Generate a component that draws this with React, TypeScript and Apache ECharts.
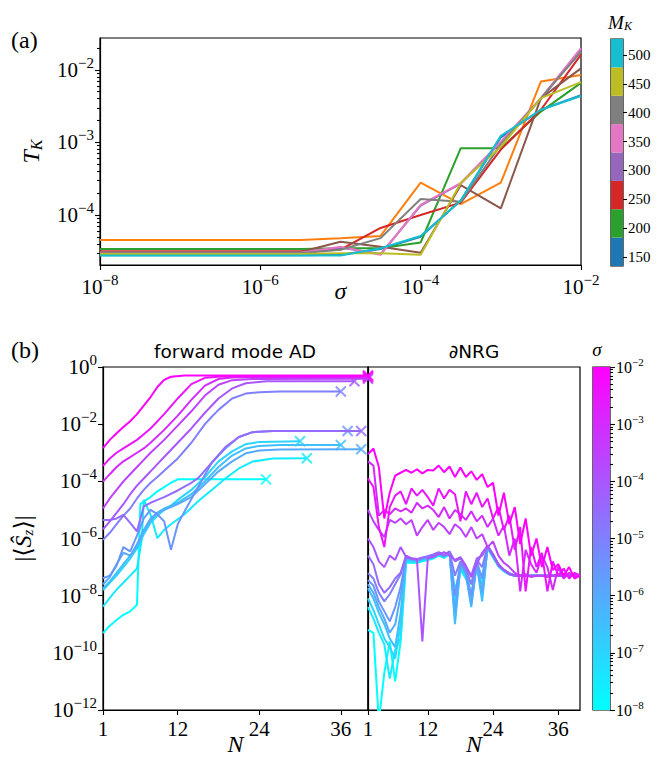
import { useEffect, useRef } from "react";
import * as echarts from "echarts";

const SERIF = "Liberation Serif, DejaVu Serif, serif";
const SANS = "DejaVu Sans, Noto Sans, sans-serif";

// ---------------- Panel (a): T_K vs sigma (log10 values) ----------------
const SIGMA_EXP = [-8, -7.5, -7, -6.5, -6, -5.5, -5, -4.5, -4, -3.5, -3, -2.5, -2];
const TK_BLUE = [-4.555, -4.555, -4.555, -4.555, -4.555, -4.555, -4.55, -4.47, -4.3, -3.8, -2.93, -2.55, -2.35];
const TK_ORANGE = [-4.345, -4.345, -4.345, -4.345, -4.345, -4.345, -4.32, -4.29, -3.555, -3.85, -3.555, -2.16, -2.07];
const TK_GREEN = [-4.47, -4.47, -4.47, -4.47, -4.47, -4.47, -4.46, -4.46, -4.38, -3.08, -3.08, -2.575, -2.18];
const TK_RED = [-4.5, -4.5, -4.5, -4.5, -4.5, -4.5, -4.48, -4.18, -4.0, -3.83, -3.1, -2.55, -1.79];
const TK_PURPLE = [-4.52, -4.52, -4.52, -4.52, -4.52, -4.52, -4.45, -4.54, -3.87, -3.57, -3.0, -2.4, -1.71];
const TK_BROWN = [-4.51, -4.51, -4.51, -4.51, -4.51, -4.51, -4.37, -4.44, -4.52, -3.59, -3.91, -2.39, -1.98];
const TK_PINK = [-4.52, -4.52, -4.52, -4.52, -4.52, -4.52, -4.44, -4.55, -3.86, -3.56, -2.99, -2.39, -1.7];
const TK_GRAY = [-4.53, -4.53, -4.53, -4.53, -4.53, -4.53, -4.48, -4.32, -3.78, -3.82, -3.03, -2.39, -1.75];
const TK_OLIVE = [-4.54, -4.54, -4.54, -4.54, -4.54, -4.54, -4.53, -4.53, -4.55, -3.56, -3.06, -2.39, -2.17];
const TK_CYAN = [-4.56, -4.56, -4.56, -4.56, -4.56, -4.56, -4.56, -4.46, -4.29, -3.8, -2.91, -2.55, -2.36];
const TK_LINES = [TK_BLUE, TK_ORANGE, TK_GREEN, TK_RED, TK_PURPLE, TK_BROWN, TK_PINK, TK_GRAY, TK_OLIVE, TK_CYAN];
const TAB10 = ["#1f77b4", "#ff7f0e", "#2ca02c", "#d62728", "#9467bd", "#8c564b", "#e377c2", "#7f7f7f", "#bcbd22", "#17becf"];

const TOP_X_TICKS = [1e-8, 1e-6, 1e-4, 1e-2];
const TOP_Y_TICKS = [1e-4, 1e-3, 1e-2];
const TOP_Y_MINOR = [3e-5, 4e-5, 5e-5, 6e-5, 7e-5, 8e-5, 9e-5, 2e-4, 3e-4, 4e-4, 5e-4, 6e-4, 7e-4, 8e-4, 9e-4, 2e-3, 3e-3, 4e-3, 5e-3, 6e-3, 7e-3, 8e-3, 9e-3, 2e-2];

const MK_TICKS = [150, 200, 250, 300, 350, 400, 450, 500];
const MK_BIN_COLORS = ["#1f77b4", "#2ca02c", "#d62728", "#9467bd", "#e377c2", "#7f7f7f", "#bcbd22", "#17becf"];

// ---------------- Panel (b): |<S_z>| vs N (log10 values) ----------------
// forward mode AD: [N, log10 value]; sigma = 1e-8 ... 1e-2 in half decades
const FWD_S0 = [[1, -9.31], [2, -9.05], [3, -8.85], [4, -8.67], [5, -8.55], [6, -8.32], [6.5, -4.8], [7, -4.7], [8, -4.55], [9, -4.35], [10, -4.2], [11, -4.05], [12, -3.93], [25, -3.93]];
const FWD_S1 = [[1, -8.38], [2, -8.08], [3, -7.79], [4, -7.55], [5, -7.3], [6, -7.05], [6.7, -6.05], [7, -4.65], [8, -5.17], [9, -5.99], [10, -5.7], [11, -5.5], [13, -5.15], [15, -4.7], [17, -4.3], [19, -3.9], [21, -3.55], [23, -3.31], [26, -3.2], [31, -3.19]];
const FWD_S2 = [[1, -7.8], [2, -7.55], [3, -7.3], [4, -7.0], [5, -6.7], [6, -6.35], [7, -5.85], [8, -5.45], [9, -5.2], [10, -5.0], [11, -4.85], [12, -4.65], [14, -4.3], [16, -3.85], [18, -3.3], [20, -2.95], [22, -2.7], [24, -2.62], [30, -2.6]];
const FWD_S3 = [[1, -7.75], [2, -7.5], [3, -7.2], [4, -6.9], [5, -6.6], [6, -6.3], [7, -5.8], [8, -5.4], [9, -5.1], [10, -4.95], [11, -4.85], [12, -4.75], [14, -4.45], [16, -4.0], [18, -3.5], [20, -3.1], [22, -2.85], [24, -2.76], [27, -2.73], [36, -2.73]];
const FWD_S4 = [[1, -7.6], [2, -7.35], [3, -6.9], [4, -6.5], [5, -6.6], [6, -6.2], [7, -5.7], [8, -5.3], [9, -5.1], [10, -5.0], [11, -4.9], [12, -4.8], [14, -4.55], [16, -4.1], [18, -3.65], [20, -3.3], [22, -3.02], [24, -2.92], [27, -2.89], [39, -2.88]];
const FWD_S5 = [[1, -7.39], [2, -7.3], [3, -6.95], [4, -6.3], [5, -6.45], [6, -5.9], [7, -5.3], [8, -5.0], [9, -5.15], [10, -5.4], [11, -6.39], [12, -5.5], [13, -5.05], [15, -4.2], [17, -3.35], [19, -2.85], [21, -2.45], [23, -2.28], [26, -2.24], [37, -2.24]];
const FWD_S6 = [[1, -6.05], [2, -5.8], [3, -5.5], [4, -5.2], [5, -4.95], [6, -4.6], [7, -4.3], [8, -4.05], [9, -3.85], [10, -3.63], [12, -3.2], [14, -2.65], [16, -2.0], [17, -1.74], [18, -1.5], [20, -1.1], [22, -0.93], [24, -0.88], [27, -0.86], [36, -0.86]];
const FWD_S7 = [[1, -5.35], [2, -5.35], [3, -5.3], [4, -5.17], [5, -5.45], [6, -5.75], [7, -4.88], [8, -4.75], [9, -4.65], [10, -4.55], [12, -4.32], [14, -4.05], [15, -3.89], [17, -3.35], [19, -2.8], [21, -2.45], [23, -2.28], [26, -2.24], [39, -2.24]];
const FWD_S8 = [[1, -5.68], [2, -5.4], [3, -5.1], [4, -4.8], [5, -4.45], [6, -4.15], [7, -3.9], [8, -3.65], [9, -3.4], [10, -3.15], [12, -2.65], [14, -2.15], [16, -1.6], [18, -1.1], [20, -0.75], [22, -0.57], [25, -0.5], [38, -0.5]];
const FWD_S9 = [[1, -4.95], [2, -4.6], [3, -4.3], [4, -4.0], [5, -3.75], [6, -3.5], [7, -3.25], [8, -3.0], [10, -2.55], [12, -2.05], [14, -1.55], [16, -1.0], [18, -0.62], [20, -0.46], [23, -0.42], [40, -0.41]];
const FWD_S10 = [[1, -4.01], [2, -3.75], [3, -3.5], [4, -3.3], [5, -3.15], [6, -3.0], [7, -2.85], [8, -2.65], [10, -2.2], [12, -1.7], [14, -1.15], [16, -0.65], [18, -0.42], [20, -0.37], [23, -0.36], [40, -0.36]];
const FWD_S11 = [[1, -3.46], [2, -3.2], [3, -3.0], [4, -2.85], [5, -2.7], [6, -2.55], [7, -2.35], [8, -2.15], [10, -1.65], [12, -1.1], [14, -0.6], [16, -0.38], [18, -0.34], [20, -0.33], [40, -0.33]];
const FWD_S12 = [[1, -2.84], [2, -2.55], [3, -2.32], [4, -2.1], [5, -1.9], [6, -1.65], [7, -1.35], [8, -1.05], [9, -0.7], [10, -0.45], [11, -0.34], [13, -0.3], [40, -0.3]];
const FWD = [FWD_S0, FWD_S1, FWD_S2, FWD_S3, FWD_S4, FWD_S5, FWD_S6, FWD_S7, FWD_S8, FWD_S9, FWD_S10, FWD_S11, FWD_S12];

// dNRG: log10 value at N = 1 ... 40
const NRG_S0 = [-9.2, -9.3, -12.4, -10.7, -9.6, -11.0, -9.6, -6.85, -6.85, -6.85, -6.8, -6.75, -6.7, -6.6, -6.68, -6.55, -7.8, -7.1, -7.4, -7.6, -7.05, -7.3, -6.36, -6.66, -6.98, -7.15, -7.26, -7.3, -7.3, -7.3, -7.3, -7.3, -7.3, -7.3, -7.3, -7.3, -7.3, -7.31, -7.3, -7.3];
const NRG_S1 = [-8.4, -8.8, -9.3, -9.7, -10.9, -9.9, -9.5, -6.8, -6.82, -6.83, -6.77, -6.72, -6.67, -6.58, -6.66, -6.52, -8.3, -7.05, -7.35, -7.9, -7.0, -7.6, -6.34, -6.64, -6.97, -7.14, -7.25, -7.3, -7.3, -7.3, -7.3, -7.3, -7.3, -7.3, -7.3, -7.3, -7.31, -7.3, -7.3, -7.3];
const NRG_S2 = [-8.1, -8.5, -9.0, -9.5, -9.8, -10.2, -9.0, -6.75, -6.8, -6.8, -6.75, -6.7, -6.65, -6.56, -6.64, -6.5, -8.8, -7.0, -7.3, -8.2, -6.95, -8.0, -6.32, -6.62, -6.95, -7.13, -7.24, -7.3, -7.3, -7.3, -7.3, -7.3, -7.3, -7.3, -7.3, -7.31, -7.3, -7.3, -7.3, -7.3];
const NRG_S3 = [-7.74, -8.1, -8.6, -9.0, -9.5, -9.8, -8.6, -6.7, -6.75, -6.78, -6.72, -6.67, -6.61, -6.54, -6.63, -6.49, -9.0, -6.95, -7.25, -8.4, -6.9, -8.2, -6.3, -6.6, -6.93, -7.12, -7.23, -7.3, -7.3, -7.3, -7.3, -7.3, -7.3, -7.3, -7.31, -7.3, -7.3, -7.3, -7.3, -7.3];
const NRG_S4 = [-7.6, -7.9, -8.4, -8.8, -9.3, -9.0, -8.0, -6.66, -6.73, -6.77, -6.71, -6.66, -6.6, -6.53, -6.62, -6.48, -8.6, -6.9, -7.2, -8.3, -6.85, -7.9, -6.28, -6.58, -6.92, -7.1, -7.22, -7.29, -7.3, -7.3, -7.3, -7.3, -7.3, -7.31, -7.3, -7.3, -7.3, -7.3, -7.3, -7.3];
const NRG_S5 = [-7.45, -7.65, -8.2, -8.55, -8.9, -8.4, -7.7, -6.64, -6.72, -6.75, -6.7, -6.64, -6.58, -6.52, -6.61, -6.47, -8.0, -6.85, -7.15, -8.0, -6.8, -7.4, -6.27, -6.57, -6.9, -7.1, -7.22, -7.29, -7.3, -7.3, -7.3, -7.3, -7.31, -7.3, -7.3, -7.3, -7.3, -7.3, -7.3, -7.3];
const NRG_S6 = [-7.21, -7.4, -7.9, -8.2, -7.95, -7.6, -7.25, -6.62, -6.7, -6.74, -6.68, -6.63, -6.57, -6.5, -6.6, -6.46, -7.3, -6.8, -7.05, -7.6, -6.75, -7.0, -6.26, -6.55, -6.9, -7.1, -7.22, -7.28, -7.3, -7.3, -7.3, -7.31, -7.3, -7.3, -7.3, -7.3, -7.3, -7.29, -7.3, -7.3];
const NRG_S7 = [-6.6, -6.9, -7.6, -7.9, -7.7, -7.4, -7.2, -6.6, -6.7, -6.72, -6.66, -6.62, -6.56, -6.48, -6.58, -6.45, -6.8, -6.7, -7.0, -7.3, -6.7, -6.6, -6.25, -6.55, -6.95, -7.1, -7.22, -7.3, -7.3, -7.3, -7.31, -7.3, -7.3, -7.3, -7.3, -7.29, -7.3, -7.3, -7.3, -7.31];
const NRG_S8 = [-6.0, -6.3, -6.8, -7.0, -6.6, -6.75, -6.3, -6.65, -6.7, -6.72, -9.6, -6.7, -6.65, -6.55, -6.48, -6.6, -6.75, -6.65, -6.95, -7.35, -6.9, -6.5, -6.25, -6.6, -6.9, -7.1, -7.25, -7.3, -7.3, -7.32, -7.3, -7.3, -7.3, -7.31, -7.3, -7.3, -7.29, -7.3, -7.3, -7.3];
const NRG_S9 = [-5.0, -5.4, -5.7, -5.95, -5.35, -5.45, -5.3, -5.5, -5.35, -5.9, -5.6, -5.35, -5.7, -5.45, -5.6, -5.85, -5.5, -5.65, -5.95, -5.6, -6.0, -5.85, -6.3, -6.1, -6.6, -6.85, -7.0, -7.2, -7.3, -7.25, -7.35, -7.3, -7.3, -7.35, -7.3, -7.28, -7.32, -7.3, -7.3, -7.3];
const NRG_S10 = [-3.3, -3.45, -5.2, -5.0, -5.15, -4.95, -5.05, -4.95, -5.1, -4.75, -4.95, -4.85, -5.0, -5.25, -4.9, -5.3, -5.0, -5.15, -5.35, -5.05, -5.4, -5.2, -5.6, -5.3, -5.9, -5.55, -6.6, -6.0, -7.85, -6.4, -6.9, -7.2, -6.6, -7.0, -7.8, -7.0, -7.4, -7.2, -7.3, -7.25];
const NRG_S11 = [-3.9, -4.2, -5.6, -6.3, -4.9, -4.5, -4.35, -4.8, -4.25, -4.5, -4.3, -4.55, -4.85, -4.25, -4.6, -4.3, -4.45, -5.4, -4.35, -4.8, -4.4, -4.9, -4.6, -5.3, -4.9, -5.7, -5.2, -6.4, -5.6, -7.85, -6.3, -7.0, -6.5, -7.85, -6.8, -7.3, -7.05, -7.4, -7.2, -7.3];
const NRG_S12 = [-3.05, -2.85, -3.5, -5.3, -4.4, -3.8, -3.7, -3.6, -3.7, -3.58, -3.72, -3.6, -3.62, -3.45, -3.68, -3.48, -3.85, -3.52, -3.85, -3.65, -3.95, -3.75, -4.2, -4.05, -5.2, -4.4, -5.5, -4.9, -6.2, -5.3, -6.6, -6.0, -7.0, -6.3, -7.1, -6.9, -7.3, -7.0, -7.4, -7.3];
const NRG = [NRG_S0, NRG_S1, NRG_S2, NRG_S3, NRG_S4, NRG_S5, NRG_S6, NRG_S7, NRG_S8, NRG_S9, NRG_S10, NRG_S11, NRG_S12];

const N_TICKS = [1, 12, 24, 36];
const B_Y_TICKS = [1e-12, 1e-10, 1e-8, 1e-6, 1e-4, 1e-2, 1];
const SIG_TICKS = [1e-8, 1e-7, 1e-6, 1e-5, 1e-4, 1e-3, 1e-2];
const SIG_MINOR = [1e-8, 1e-7, 1e-6, 1e-5, 1e-4, 1e-3].flatMap((d) => [2, 3, 4, 5, 6, 7, 8, 9].map((m) => m * d));

// cool colormap, sigma index 0 (1e-8) .. 12 (1e-2)
const cool = (i: number) => {
  const t = i / 12;
  return `rgb(${Math.round(255 * t)},${Math.round(255 * (1 - t))},255)`;
};

const expStr = (v: number) => {
  const e = Math.round(Math.log10(v));
  return e < 0 ? "\u2212" + -e : String(e);
};
const supFmt = (v: number) => `{b|10}{s|${expStr(v)}}`;
const supRich = (big: number, small: number, raise: number) => ({
  b: { fontFamily: SERIF, fontSize: big, color: "#000" },
  s: { fontFamily: SERIF, fontSize: small, color: "#000", padding: [0, 0, raise, 0] },
});

const AX_LINE = { show: true, lineStyle: { color: "#000", width: 1.2 } };
const tick = (vals: number[], len = 5) => ({ show: true, customValues: vals, length: len, lineStyle: { color: "#000", width: 1.1 } });
const nameStyle = { fontFamily: SERIF, fontStyle: "italic", fontSize: 24, color: "#000" };

function buildOption(): any {
  const series: any[] = [];

  TK_LINES.forEach((arr, k) => {
    series.push({
      type: "line", xAxisIndex: 0, yAxisIndex: 0, silent: true, symbol: "none",
      data: arr.map((v, j) => [Math.pow(10, SIGMA_EXP[j]), Math.pow(10, v)]),
      lineStyle: { color: TAB10[k], width: 2 },
    });
  });

  MK_BIN_COLORS.forEach((c) => {
    series.push({
      type: "bar", xAxisIndex: 1, yAxisIndex: 2, stack: "mk", silent: true,
      data: [1], barWidth: "100%", itemStyle: { color: c },
    });
  });

  FWD.forEach((arr, i) => {
    series.push({
      type: "line", xAxisIndex: 2, yAxisIndex: 4, silent: true, symbol: "none", clip: true,
      data: arr.map(([n, e]) => [n, Math.pow(10, e)]),
      lineStyle: { color: cool(i), width: 2 },
    });
  });
  series.push({
    type: "scatter", xAxisIndex: 2, yAxisIndex: 4, silent: true, clip: false,
    symbol: "path://M0,0L10,10M10,0L0,10", symbolSize: 10,
    data: FWD.map((arr, i) => {
      const last = arr[arr.length - 1];
      return { value: [last[0], Math.pow(10, last[1])], itemStyle: { borderColor: cool(i) } };
    }),
    itemStyle: { color: "rgba(0,0,0,0)", borderWidth: 2 },
  });

  NRG.forEach((arr, i) => {
    series.push({
      type: "line", xAxisIndex: 3, yAxisIndex: 5, silent: true, symbol: "none", clip: true,
      data: arr.map((e, k) => [k + 1, Math.pow(10, e)]),
      lineStyle: { color: cool(i), width: 2 },
    });
  });

  series.push({
    type: "bar", xAxisIndex: 4, yAxisIndex: 6, silent: true, data: [1], barWidth: "100%",
    itemStyle: {
      color: new echarts.graphic.LinearGradient(0, 0, 0, 1, [
        { offset: 0, color: cool(12) },
        { offset: 1, color: cool(0) },
      ]),
    },
  });

  const gridBox = { show: true, borderColor: "#000", borderWidth: 1.2, backgroundColor: "transparent" };

  return {
    animation: false,
    backgroundColor: "#fff",
    textStyle: { fontFamily: SERIF },
    grid: [
      { left: 100, top: 38, width: 481, height: 227, ...gridBox },
      { left: 611, top: 39, width: 12, height: 227, ...gridBox },
      { left: 103, top: 367, width: 265, height: 343, ...gridBox },
      { left: 368, top: 367, width: 212, height: 343, ...gridBox },
      { left: 593, top: 367, width: 17, height: 343, ...gridBox },
    ],
    xAxis: [
      {
        gridIndex: 0, type: "log", logBase: 10, min: 1e-8, max: 1e-2,
        axisLine: AX_LINE, axisTick: tick(TOP_X_TICKS), splitLine: { show: false },
        axisLabel: { customValues: TOP_X_TICKS, formatter: supFmt, rich: supRich(21, 15, 14), margin: 7, fontFamily: SERIF },
        name: "\u03c3", nameLocation: "middle", nameGap: 14, nameMoveOverlap: false,
        nameTextStyle: nameStyle,
      },
      { gridIndex: 1, type: "category", data: ["c"], show: false },
      {
        gridIndex: 2, type: "value", min: 1, max: 40,
        axisLine: AX_LINE, axisTick: tick(N_TICKS), splitLine: { show: false },
        axisLabel: { customValues: N_TICKS, fontFamily: SERIF, fontSize: 21, color: "#000", margin: 8 },
        name: "N", nameLocation: "middle", nameGap: 22, nameMoveOverlap: false,
        nameTextStyle: nameStyle,
      },
      {
        gridIndex: 3, type: "value", min: 1, max: 40,
        axisLine: AX_LINE, axisTick: tick(N_TICKS), splitLine: { show: false },
        axisLabel: { customValues: N_TICKS, fontFamily: SERIF, fontSize: 21, color: "#000", margin: 8 },
        name: "N", nameLocation: "middle", nameGap: 22, nameMoveOverlap: false,
        nameTextStyle: nameStyle,
      },
      { gridIndex: 4, type: "category", data: ["c"], show: false },
    ],
    yAxis: [
      {
        gridIndex: 0, type: "log", logBase: 10, min: 2.04e-5, max: 0.0275,
        axisLine: AX_LINE, axisTick: tick(TOP_Y_TICKS), splitLine: { show: false },
        axisLabel: { customValues: TOP_Y_TICKS, formatter: supFmt, rich: supRich(21, 15, 14), margin: 6, fontFamily: SERIF },
        name: "{t|T}{k|K}", nameLocation: "middle", nameGap: 56, nameRotate: 90, nameMoveOverlap: false,
        nameTextStyle: {
          rich: {
            t: { fontFamily: SERIF, fontStyle: "italic", fontSize: 24, color: "#000" },
            k: { fontFamily: SERIF, fontStyle: "italic", fontSize: 16, color: "#000", padding: [10, 0, 0, 0] },
          },
        },
      },
      {
        gridIndex: 0, type: "log", logBase: 10, min: 2.04e-5, max: 0.0275, position: "left",
        axisLine: { show: false }, axisTick: tick(TOP_Y_MINOR, 3), axisLabel: { show: false }, splitLine: { show: false },
      },
      { gridIndex: 1, type: "value", min: 0, max: 8, show: false },
      {
        gridIndex: 1, type: "value", min: 134, max: 528, position: "right",
        axisLine: { show: false }, axisTick: tick(MK_TICKS, 4), splitLine: { show: false },
        axisLabel: { customValues: MK_TICKS, fontFamily: SERIF, fontSize: 15, color: "#000", margin: 5 },
      },
      {
        gridIndex: 2, type: "log", logBase: 10, min: 1e-12, max: 1,
        axisLine: AX_LINE, axisTick: tick(B_Y_TICKS), splitLine: { show: false },
        axisLabel: { customValues: B_Y_TICKS, formatter: supFmt, rich: supRich(21, 15, 14), margin: 6, fontFamily: SERIF },
        name: "{n|\u007c\u27e8}{i|\u015c}{k|z}{n|\u27e9\u007c}", nameLocation: "middle", nameGap: 68, nameRotate: 90, nameMoveOverlap: false,
        nameTextStyle: {
          rich: {
            n: { fontFamily: SERIF, fontSize: 24, color: "#000" },
            i: { fontFamily: SERIF, fontStyle: "italic", fontSize: 24, color: "#000" },
            k: { fontFamily: SERIF, fontStyle: "italic", fontSize: 15, color: "#000", padding: [10, 0, 0, 0] },
          },
        },
      },
      {
        gridIndex: 3, type: "log", logBase: 10, min: 1e-12, max: 1,
        axisLine: AX_LINE, axisTick: { show: false }, axisLabel: { show: false }, splitLine: { show: false },
      },
      { gridIndex: 4, type: "value", min: 0, max: 1, show: false },
      {
        gridIndex: 4, type: "log", logBase: 10, min: 1e-8, max: 1e-2, position: "right",
        axisLine: { show: false }, axisTick: tick(SIG_TICKS, 5), splitLine: { show: false },
        axisLabel: { customValues: SIG_TICKS, formatter: supFmt, rich: supRich(16, 11, 10), margin: 6, fontFamily: SERIF },
      },
      {
        gridIndex: 4, type: "log", logBase: 10, min: 1e-8, max: 1e-2, position: "right",
        axisLine: { show: false }, axisTick: tick(SIG_MINOR, 3), axisLabel: { show: false }, splitLine: { show: false },
      },
    ],
    series,
    graphic: [
      { type: "text", left: 11, top: 28, style: { text: "(a)", fontFamily: SERIF, fontSize: 24, fill: "#000" } },
      { type: "text", left: 11, top: 338, style: { text: "(b)", fontFamily: SERIF, fontSize: 24, fill: "#000" } },
      { type: "text", x: 235, y: 351, style: { text: "forward mode AD", fontFamily: SANS, fontSize: 18.5, fill: "#000", align: "center", verticalAlign: "middle" } },
      { type: "text", x: 474, y: 351, style: { text: "\u2202NRG", fontFamily: SANS, fontSize: 18.5, fill: "#000", align: "center", verticalAlign: "middle" } },
      { type: "text", x: 597, y: 349, style: { text: "\u03c3", fontFamily: SERIF, fontStyle: "italic", fontSize: 19, fill: "#000", align: "center", verticalAlign: "middle" } },
      {
        type: "text", x: 620, y: 22,
        style: {
          text: "{m|M}{k|K}", align: "center", verticalAlign: "middle",
          rich: {
            m: { fontFamily: SERIF, fontStyle: "italic", fontSize: 19, fill: "#000" },
            k: { fontFamily: SERIF, fontStyle: "italic", fontSize: 12, fill: "#000", padding: [8, 0, 0, 0] },
          },
        },
      },
    ],
  };
}

export default function App() {
  const ref = useRef<HTMLDivElement>(null);
  useEffect(() => {
    document.body.style.margin = "0";
    const chart = echarts.init(ref.current!, null, { renderer: "svg" });
    chart.setOption(buildOption());
    return () => chart.dispose();
  }, []);
  return <div ref={ref} style={{ position: "absolute", left: 0, top: 0, width: 671, height: 766, background: "#fff" }} />;
}
